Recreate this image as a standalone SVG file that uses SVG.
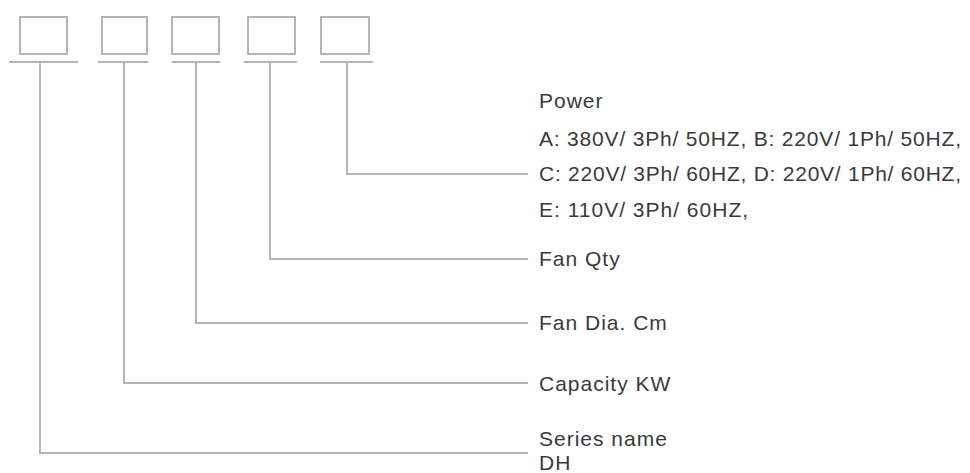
<svg xmlns="http://www.w3.org/2000/svg" width="970" height="473" viewBox="0 0 970 473">
<style>
.box{fill:none;stroke:#b4b4b4;stroke-width:2}
.ln{fill:none;stroke:#b4b4b4;stroke-width:2}
.t{font-family:"Liberation Sans",Arial,sans-serif;font-size:21px;letter-spacing:1px;fill:#3a3a3a}
</style>
<rect width="970" height="473" fill="#fff"/>
<g id="box1"><rect class="box" x="20" y="17" width="47" height="37"/><line class="ln" x1="9" y1="62" x2="78" y2="62"/></g>
<g id="box2"><rect class="box" x="102" y="17" width="45" height="37"/><line class="ln" x1="98" y1="62" x2="148" y2="62"/></g>
<g id="box3"><rect class="box" x="172" y="17" width="47" height="37"/><line class="ln" x1="172" y1="62" x2="220" y2="62"/></g>
<g id="box4"><rect class="box" x="248" y="17" width="47" height="37"/><line class="ln" x1="244" y1="62" x2="297" y2="62"/></g>
<g id="box5"><rect class="box" x="321" y="17" width="48" height="37"/><line class="ln" x1="320" y1="62" x2="373" y2="62"/></g>
<g id="connectors">
<polyline class="ln" points="347,62 347,174 528,174"/>
<polyline class="ln" points="270,62 270,259 528,259"/>
<polyline class="ln" points="196,62 196,323 528,323"/>
<polyline class="ln" points="124,62 124,383 528,383"/>
<polyline class="ln" points="40,62 40,453 528,453"/>
</g>
<g id="labels">
<text class="t" x="539" y="108">Power</text>
<text class="t" x="539" y="146" textLength="423" lengthAdjust="spacing">A: 380V/ 3Ph/ 50HZ, B: 220V/ 1Ph/ 50HZ,</text>
<text class="t" x="539" y="181" textLength="423" lengthAdjust="spacing">C: 220V/ 3Ph/ 60HZ, D: 220V/ 1Ph/ 60HZ,</text>
<text class="t" x="539" y="217">E: 110V/ 3Ph/ 60HZ,</text>
<text class="t" x="539" y="266">Fan Qty</text>
<text class="t" x="539" y="330">Fan Dia. Cm</text>
<text class="t" x="539" y="391">Capacity KW</text>
<text class="t" x="539" y="446">Series name</text>
<text class="t" x="539" y="470">DH</text>
</g>
</svg>
